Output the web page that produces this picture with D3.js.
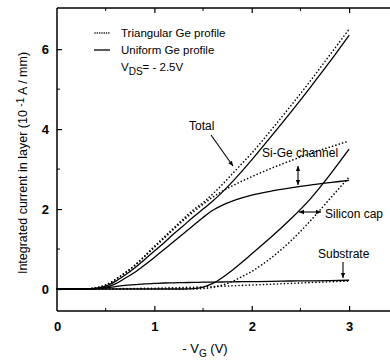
<!DOCTYPE html>
<html><head><meta charset="utf-8">
<script src="https://cdn.jsdelivr.net/npm/d3@7"></script>
<style>body{margin:0;background:#fff}svg{display:block}text{font-family:"Liberation Sans",Arial,sans-serif;fill:#000}</style>
</head><body><svg id="c" width="390" height="364"></svg>
<script>
const vg = [0,0.2,0.3,0.4,0.5,0.6,0.7,0.8,0.9,1.0,1.1,1.2,1.3,1.4,1.5,1.6,1.7,1.8,1.9,2.0,2.2,2.4,2.6,2.8,3.0];
const totalTri   = [0,0,0.005,0.03,0.1,0.24,0.41,0.6,0.83,1.07,1.3,1.53,1.76,1.98,2.16,2.38,2.62,2.88,3.14,3.4,3.98,4.58,5.2,5.85,6.5];
const totalUni   = [0,0,0.003,0.02,0.07,0.19,0.35,0.53,0.74,0.95,1.16,1.38,1.59,1.8,2.0,2.2,2.43,2.68,2.95,3.23,3.82,4.42,5.04,5.68,6.35];
const sigeUni    = [0,0,0,0.01,0.04,0.13,0.27,0.42,0.6,0.79,0.99,1.19,1.39,1.59,1.79,1.97,2.1,2.2,2.28,2.35,2.45,2.53,2.6,2.66,2.72];
const sigeTri    = [0,0,0.005,0.03,0.1,0.24,0.4,0.59,0.81,1.04,1.27,1.5,1.72,1.93,2.12,2.3,2.45,2.58,2.7,2.81,3.02,3.21,3.39,3.55,3.7];
const capUni     = [0,0,0,0,0,0,0,0,0,0,0,0,0,0.01,0.05,0.14,0.29,0.47,0.67,0.88,1.3,1.75,2.25,2.85,3.5];
const capTri     = [0,0,0,0,0,0,0,0,0,0,0,0,0,0,0.01,0.04,0.1,0.19,0.31,0.44,0.78,1.2,1.7,2.25,2.8];
const subUni     = [0,0,0,0.01,0.03,0.06,0.09,0.11,0.13,0.14,0.15,0.155,0.16,0.165,0.17,0.172,0.175,0.18,0.183,0.186,0.19,0.2,0.205,0.21,0.22];
const subTri     = [0,0,0,0,0,0.005,0.01,0.013,0.017,0.02,0.026,0.032,0.038,0.044,0.05,0.06,0.07,0.08,0.09,0.1,0.12,0.14,0.16,0.18,0.2];
const xTicks = [0,1,2,3];
const yTicks = [0,2,4,6];
const xMinor = [0.5,1.5,2.5];
const yMinor = [1,3,5];

const svg = d3.select("#c");
const x = d3.scaleLinear().domain([0,3.42]).range([57,390]);
const y = d3.scaleLinear().domain([-0.55,7.03]).range([311,8]);

const g = svg.append("g");
const ax = g.append("g").attr("stroke","#000").attr("stroke-width",1.5).attr("fill","none");
ax.append("line").attr("x1",x(0)).attr("x2",x(0)).attr("y1",y(-0.55)).attr("y2",y(7.03));
ax.append("line").attr("x1",x(0)).attr("x2",390).attr("y1",y(-0.55)).attr("y2",y(-0.55));
ax.append("line").attr("x1",x(0)).attr("x2",390).attr("y1",y(7.03)).attr("y2",y(7.03));
const bottom = d3.axisBottom(x).tickValues(xTicks).tickSize(-5).tickFormat(d3.format("d"));
const left = d3.axisLeft(y).tickValues(yTicks).tickSize(-5).tickFormat(d3.format("d"));
const bg = g.append("g").attr("transform",`translate(0,${y(-0.55)})`).call(bottom);
const lg = g.append("g").attr("transform",`translate(${x(0)},0)`).call(left);
const tg = g.append("g").attr("transform",`translate(0,${y(7.03)})`).call(d3.axisTop(x).tickValues(xTicks).tickSize(-5).tickFormat(""));
[bg,lg,tg].forEach(a=>{a.select(".domain").remove();a.selectAll(".tick line").attr("stroke-width",1.2);});
bg.selectAll(".tick text").attr("font-size",13).attr("font-weight","bold").attr("dy","1.3em");
lg.selectAll(".tick text").attr("font-size",13).attr("font-weight","bold").attr("x",-8);
bg.selectAll(".tick").filter(d=>d===0).select("line").remove();
tg.selectAll(".tick").filter(d=>d===0).remove();
g.selectAll(".mx").data(xMinor).join("line").attr("x1",d=>x(d)).attr("x2",d=>x(d)).attr("y1",y(-0.55)).attr("y2",y(-0.55)-3).attr("stroke","#000");
g.selectAll(".mxt").data(xMinor).join("line").attr("x1",d=>x(d)).attr("x2",d=>x(d)).attr("y1",y(7.03)).attr("y2",y(7.03)+3).attr("stroke","#000");
g.selectAll(".my").data(yMinor).join("line").attr("x1",x(0)).attr("x2",x(0)+3).attr("y1",d=>y(d)).attr("y2",d=>y(d)).attr("stroke","#000");

const line = d3.line().x(d=>x(d[0])).y(d=>y(d[1])).curve(d3.curveMonotoneX);
function draw(vals, dotted){
  g.append("path").datum(vg.map((v,i)=>[v,vals[i]])).attr("d",line).attr("fill","none").attr("stroke","#000")
   .attr("stroke-width",dotted?1.6:1.3).attr("stroke-dasharray",dotted?"0.1,3.4":null).attr("stroke-linecap",dotted?"round":"butt");
}
[subTri,capTri,sigeTri,totalTri].forEach(s=>draw(s,true));
[subUni,capUni,sigeUni,totalUni].forEach(s=>draw(s,false));

g.append("line").attr("x1",95).attr("x2",109).attr("y1",33).attr("y2",33).attr("stroke","#000").attr("stroke-width",1.5).attr("stroke-dasharray","0.1,2.2").attr("stroke-linecap","round");
g.append("line").attr("x1",94).attr("x2",110).attr("y1",50).attr("y2",50).attr("stroke","#000").attr("stroke-width",1.3);
g.append("text").attr("x",121).attr("y",37).attr("font-size",11.5).text("Triangular Ge profile");
g.append("text").attr("x",121).attr("y",54).attr("font-size",11.5).text("Uniform Ge profile");
const vds = g.append("text").attr("x",121).attr("y",71).attr("font-size",11.5);
vds.append("tspan").text("V");
vds.append("tspan").attr("font-size",10).attr("dy",4).text("DS");
vds.append("tspan").attr("dy",-4).text("= - 2.5V");

function arrowHead(x0,y0,x1,y1){
  const a=Math.atan2(y1-y0,x1-x0), L=5, w=2.2;
  const p=[[x1,y1],[x1-L*Math.cos(a)+w*Math.sin(a),y1-L*Math.sin(a)-w*Math.cos(a)],[x1-L*Math.cos(a)-w*Math.sin(a),y1-L*Math.sin(a)+w*Math.cos(a)]];
  g.append("path").attr("d","M"+p.join("L")+"Z").attr("fill","#000");
}
function arrow(x0,y0,x1,y1,both){
  g.append("line").attr("x1",x0).attr("y1",y0).attr("x2",x1).attr("y2",y1).attr("stroke","#000").attr("stroke-width",1.1);
  arrowHead(x0,y0,x1,y1); if(both) arrowHead(x1,y1,x0,y0);
}
g.append("text").attr("x",189).attr("y",130).attr("font-size",12).text("Total");
arrow(211,135,233,166,false);
g.append("text").attr("x",262).attr("y",157).attr("font-size",12).text("Si-Ge channel");
arrow(298,166,298,185,true);
g.append("text").attr("x",325).attr("y",218).attr("font-size",12).text("Silicon cap");
arrow(299,212,321,212,true);
g.append("text").attr("x",318).attr("y",258).attr("font-size",12).text("Substrate");
arrow(343,262,343,278,false);

const yl = g.append("text").attr("transform","translate(27,163) rotate(-90)").attr("text-anchor","middle").attr("font-size",12.5);
yl.append("tspan").text("Integrated current in layer (10 ");
yl.append("tspan").attr("font-size",10).attr("dy",-3).text(" -1");
yl.append("tspan").attr("dy",3).text(" A / mm)");
const xl = g.append("text").attr("x",205).attr("y",353).attr("text-anchor","middle").attr("font-size",13);
xl.append("tspan").text("- V");
xl.append("tspan").attr("font-size",10).attr("dy",4).text("G");
xl.append("tspan").attr("dy",-4).text(" (V)");
</script></body></html>
